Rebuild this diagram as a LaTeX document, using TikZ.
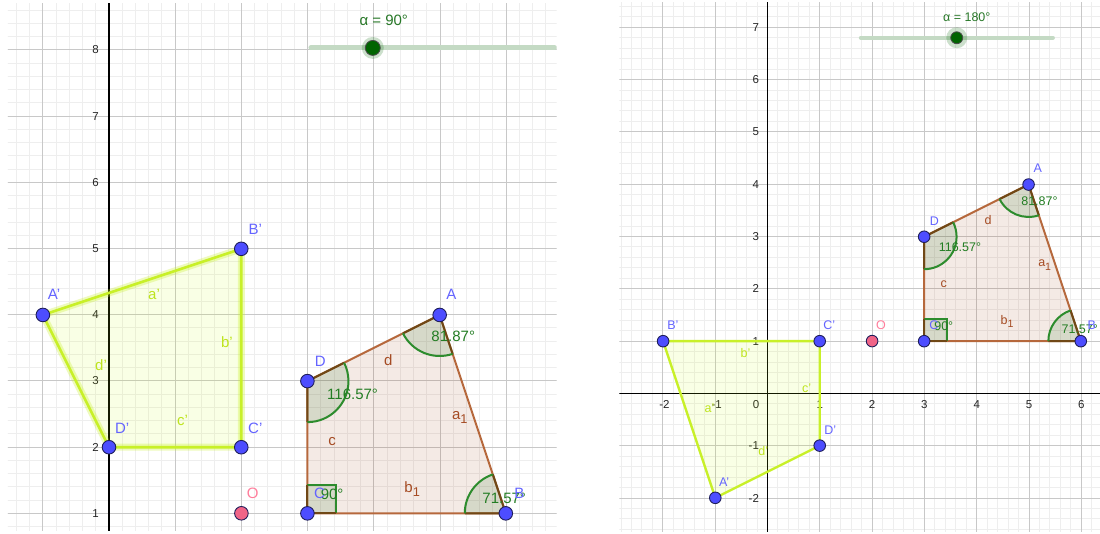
\documentclass[tikz,border=0pt]{standalone}
\usepackage{fontspec}
\setmainfont{Liberation Sans}
\usetikzlibrary{calc}
\definecolor{brownE}{RGB}{182,104,60}
\definecolor{brownF}{RGB}{153,51,0}
\definecolor{brownD}{RGB}{112,72,22}
\definecolor{brownT}{RGB}{165,75,35}
\definecolor{angG}{RGB}{45,140,45}
\definecolor{angT}{RGB}{35,125,35}
\definecolor{ptB}{RGB}{77,77,255}
\definecolor{ptO}{RGB}{30,30,90}
\definecolor{ptLbl}{RGB}{100,100,255}
\definecolor{limeE}{RGB}{200,240,40}
\definecolor{limeF}{RGB}{204,255,0}
\definecolor{limeT}{RGB}{190,228,30}
\definecolor{pinkP}{RGB}{240,100,135}
\definecolor{pinkT}{RGB}{255,125,155}
\definecolor{gridMinor}{RGB}{238,238,238}
\definecolor{gridMajor}{RGB}{200,200,200}
\definecolor{sliderG}{RGB}{0,100,0}
\definecolor{sliderL}{RGB}{196,218,196}
\definecolor{sliderT}{RGB}{40,120,40}
\newcommand\gsub[1]{\raisebox{-0.5ex}{\scalebox{0.85}{#1}}}
\newcommand\angmark[3]{%
  \fill[angfill] (#1) -- ($(#1)+(#2:0.62)$) arc[start angle=#2,end angle=#3,radius=0.62] -- cycle;
  \draw[angedge] ($(#1)+(#2:0.62)$) -- (#1) -- ($(#1)+(#3:0.62)$);
  \draw[angline] ($(#1)+(#2:0.62)$) arc[start angle=#2,end angle=#3,radius=0.62];
}
\newcommand\drawABCD[1]{%
  \coordinate (#1A) at (5,4);
  \coordinate (#1B) at (6,1);
  \coordinate (#1C) at (3,1);
  \coordinate (#1D) at (3,3);
  \fill[quadfill] (#1A) -- (#1B) -- (#1C) -- (#1D) -- cycle;
  \draw[quadedge] (#1A) -- (#1B) -- (#1C) -- (#1D) -- cycle;
  \angmark{#1A}{206.57}{288.43}
  \angmark{#1B}{108.43}{180}
  \angmark{#1D}{-90}{26.57}
  \fill[angfill] (#1C) rectangle ($(#1C)+(0.43,0.43)$);
  \draw[angline] ($(#1C)+(0,0.43)$) -- ($(#1C)+(0.43,0.43)$) -- ($(#1C)+(0.43,0)$);
  \draw[angedge] ($(#1C)+(0,0.43)$) -- (#1C) -- ($(#1C)+(0.43,0)$);
  \node[segtxt] (#1sd) at (4.22,3.31) {d};
  \node[segtxt] (#1sa) at (5.30,2.45) {a\gsub{1}};
  \node[segtxt] (#1sc) at (3.37,2.08) {c};
  \node[segtxt] (#1sb) at (4.58,1.37) {b\gsub{1}};
  \node[angtxt] (#1tA) at (5.20,3.67) {81.87°};
  \node[angtxt] (#1tD) at (3.68,2.80) {116.57°};
  \node[angtxt] (#1tC) at (3.37,1.28) {90°};
  \node[angtxt] (#1tB) at (5.97,1.22) {71.57°};
  \node[gpt] (#1pA) at (#1A) {};
  \node[gpt] (#1pB) at (#1B) {};
  \node[gpt] (#1pC) at (#1C) {};
  \node[gpt] (#1pD) at (#1D) {};
  \node[gpt, fill=pinkP] (#1pO) at (2,1) {};
  \node[ptlbl] (#1lA) at (5.17,4.30) {A};
  \node[ptlbl] (#1lB) at (6.20,1.30) {B};
  \node[ptlbl] (#1lC) at (3.18,1.30) {C};
  \node[ptlbl] (#1lD) at (3.19,3.29) {D};
  \node[ptlbl, text=pinkT] (#1lO) at (2.17,1.30) {O};
}
\begin{document}
\begin{tikzpicture}[x=1pt,y=1pt,
  minorline/.style={draw=gridMinor, line width=1pt},
  majorline/.style={draw=gridMajor, line width=1pt},
  axisline/.style={draw=black, line width=1.3pt},
  quadfill/.style={fill=brownF, fill opacity=0.1},
  quadedge/.style={draw=brownE, line width=2pt, line join=round},
  angfill/.style={fill=sliderG, fill opacity=0.12},
  angedge/.style={draw=brownD, line width=2pt, line join=round},
  angline/.style={draw=angG, line width=2pt},
  primefill/.style={fill=limeF, fill opacity=0.1},
  primeedge/.style={draw=limeE, line width=2.6pt, line join=round},
  primehalo/.style={draw=limeE, line width=7pt, opacity=0.3, line join=round},
  sliderline/.style={draw=sliderL, line cap=round},
  sliderhalo/.style={fill=sliderG, fill opacity=0.2},
  knob/.style={circle, fill=sliderG, draw=black!70, line width=0.8pt, inner sep=0pt},
  gpt/.style={circle, fill=ptB, draw=ptO, line width=0.9pt, inner sep=0pt, minimum size=12.5pt},
  tick/.style={font=\fontsize{11.5}{13}\selectfont, text=black!85, inner sep=0pt},
  ]
\useasboundingbox (0,0) rectangle (1100,533);
\fill[white] (0,0) rectangle (1100,533);

% ---------------- left panel (alpha = 90) ----------------
\begin{scope}[shift={(109,-46.5)}, scale=66.2,
  ptlbl/.style={text=ptLbl, font=\fontsize{15}{17}\selectfont, inner sep=0pt},
  segtxt/.style={text=brownT, font=\fontsize{15}{17}\selectfont, inner sep=0pt},
  angtxt/.style={text=angT, font=\fontsize{15}{17}\selectfont, inner sep=0pt},
  primetxt/.style={text=limeT, font=\fontsize{15}{17}\selectfont, inner sep=0pt},
  gpt/.append style={minimum size=13.6pt}]
  \begin{scope}
  \clip (-1.526,0.733) rectangle (6.763,8.708);
  \foreach \i in {-7,...,33} \draw[minorline] (\i/5,0.6) -- (\i/5,8.8);
  \foreach \i in {3,...,43} \draw[minorline] (-1.6,\i/5) -- (6.8,\i/5);
  \foreach \i in {-1,...,6} \draw[majorline] (\i,0.6) -- (\i,8.8);
  \foreach \i in {1,...,8} \draw[majorline] (-1.6,\i) -- (6.8,\i);
  \draw[axisline] (0,0.6) -- (0,8.8);
  \foreach \y in {1,...,8} \node[tick, anchor=east] (Lt\y) at (-0.15,\y) {\y};
  % slider
  \draw[sliderline, line width=5pt] (3.05,8.03) -- (6.73,8.03);
  \fill[sliderhalo] (3.985,8.03) circle[radius=0.166];
  \node[knob, minimum size=15pt] (Lknob) at (3.985,8.03) {};
  \node[text=sliderT, font=\fontsize{15}{17}\selectfont, inner sep=0pt] (Lalpha) at (4.15,8.44) {α = 90°};
  % image quadrilateral
  \coordinate (LA') at (-1,4);
  \coordinate (LB') at (2,5);
  \coordinate (LC') at (2,2);
  \coordinate (LD') at (0,2);
  \fill[primefill] (LA') -- (LB') -- (LC') -- (LD') -- cycle;
  \draw[primehalo] (LA') -- (LB') -- (LC') -- (LD') -- cycle;
  \draw[primeedge] (LA') -- (LB') -- (LC') -- (LD') -- cycle;
  \node[primetxt] (Lsa') at (0.68,4.30) {a'};
  \node[primetxt] (Lsb') at (1.78,3.59) {b'};
  \node[primetxt] (Lsc') at (1.11,2.41) {c'};
  \node[primetxt] (Lsd') at (-0.12,3.24) {d'};
  % original quadrilateral
  \drawABCD{L}
  \node[gpt] (LpA') at (LA') {};
  \node[gpt] (LpB') at (LB') {};
  \node[gpt] (LpC') at (LC') {};
  \node[gpt] (LpD') at (LD') {};
  \node[ptlbl] (LlA') at (-0.83,4.30) {A'};
  \node[ptlbl] (LlB') at (2.21,5.29) {B'};
  \node[ptlbl] (LlC') at (2.21,2.28) {C'};
  \node[ptlbl] (LlD') at (0.20,2.28) {D'};
  \end{scope}
\end{scope}

% ---------------- right panel (alpha = 180) ----------------
\begin{scope}[shift={(767.5,139.6)}, scale=52.3,
  ptlbl/.style={text=ptLbl, font=\fontsize{12.5}{14}\selectfont, inner sep=0pt},
  segtxt/.style={text=brownT, font=\fontsize{12.5}{14}\selectfont, inner sep=0pt},
  angtxt/.style={text=angT, font=\fontsize{12.5}{14}\selectfont, inner sep=0pt},
  primetxt/.style={text=limeT, font=\fontsize{12.5}{14}\selectfont, inner sep=0pt},
  gpt/.append style={minimum size=11.6pt}]
  \begin{scope}
  \clip (-2.834,-2.64) rectangle (6.36,7.465);
  \foreach \i in {-14,...,31} \draw[minorline] (\i/5,-2.7) -- (\i/5,7.5);
  \foreach \i in {-13,...,37} \draw[minorline] (-2.9,\i/5) -- (6.4,\i/5);
  \foreach \i in {-2,...,6} \draw[majorline] (\i,-2.7) -- (\i,7.5);
  \foreach \i in {-2,...,7} \draw[majorline] (-2.9,\i) -- (6.4,\i);
  \draw[axisline] (0,-2.7) -- (0,7.5);
  \draw[axisline] (-2.9,0) -- (6.4,0);
  \foreach \y in {-2,-1,1,2,3,4,5,6,7} \node[tick, anchor=east] (Rty\y) at (-0.16,\y) {\y};
  \foreach \x in {-2,-1} \node[tick] (Rtx\x) at (\x+0.03,-0.21) {\x};
  \foreach \x in {1,...,6} \node[tick] (Rtx\x) at (\x,-0.21) {\x};
  \node[tick] (Rt0) at (-0.22,-0.21) {0};
  % slider
  \draw[sliderline, line width=4.5pt] (1.788,6.80) -- (5.453,6.80);
  \fill[sliderhalo] (3.618,6.80) circle[radius=0.2];
  \node[knob, minimum size=12pt] (Rknob) at (3.618,6.80) {};
  \node[text=sliderT, font=\fontsize{12.5}{14}\selectfont, inner sep=0pt] (Ralpha) at (3.81,7.19) {α = 180°};
  % image quadrilateral
  \coordinate (RA') at (-1,-2);
  \coordinate (RB') at (-2,1);
  \coordinate (RC') at (1,1);
  \coordinate (RD') at (1,-1);
  \fill[primefill] (RA') -- (RB') -- (RC') -- (RD') -- cycle;
  \draw[primeedge, line width=2.4pt] (RA') -- (RB') -- (RC') -- (RD') -- cycle;
  \node[primetxt] (Rsb') at (-0.42,0.78) {b'};
  \node[primetxt] (Rsc') at (0.75,0.10) {c'};
  \node[primetxt] (Rsa') at (-1.11,-0.29) {a'};
  \node[primetxt] (Rsd') at (-0.08,-1.11) {d'};
  % original quadrilateral
  \drawABCD{R}
  \node[gpt] (RpA') at (RA') {};
  \node[gpt] (RpB') at (RB') {};
  \node[gpt] (RpC') at (RC') {};
  \node[gpt] (RpD') at (RD') {};
  \node[ptlbl] (RlA') at (-0.83,-1.69) {A'};
  \node[ptlbl] (RlB') at (-1.81,1.31) {B'};
  \node[ptlbl] (RlC') at (1.18,1.31) {C'};
  \node[ptlbl] (RlD') at (1.20,-0.70) {D'};
  \end{scope}
\end{scope}
\end{tikzpicture}
\end{document}
